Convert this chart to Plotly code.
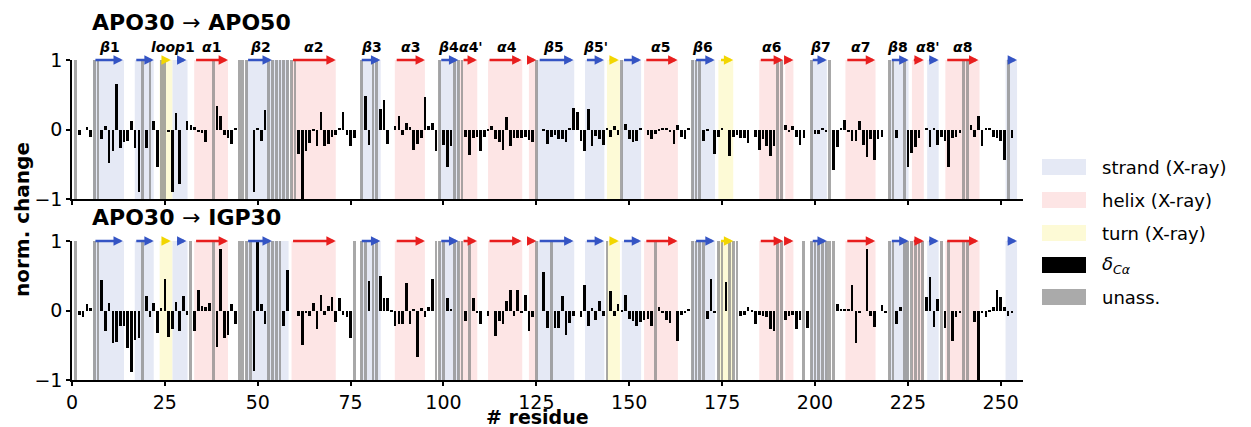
import plotly.graph_objects as go

# ---------------------------------------------------------------------------
# Data: normalised C-alpha chemical-shift change per residue (None = unassigned)
# ---------------------------------------------------------------------------
residues = list(range(1, 255))

delta_apo50 = [
    None, -0.08, 0.0, 0.04, -0.11, None, None, -0.14, 0.05, -0.48,
    -0.31, 0.65, -0.26, -0.18, -0.17, 0.13, -0.26, -0.89, None, -0.26,
    None, 0.12, -0.54, None, None, -0.03, -0.89, 0.24, -0.78, 0.0,
    0.12, 0.07, 0.04, -0.03, -0.05, -0.18, 0.0, None, 0.34, 0.2,
    -0.07, -0.12, -0.2, 0.03, None, None, None, 0.0, -0.89, 0.01,
    -0.17, 0.28, None, None, None, None, None, None, None, None,
    -0.35, -1.0, -0.31, -0.19, -0.02, -0.24, 0.25, -0.23, -0.2, -0.11,
    -0.07, 0.01, 0.25, -0.07, -0.24, -0.12, 0.0, None, 0.49, -0.22,
    None, None, 0.3, 0.43, -0.2, 0.0, 0.05, 0.19, -0.08, 0.1,
    0.04, -0.29, -0.2, -0.12, 0.47, 0.05, 0.1, -0.31, None, -0.22,
    -0.53, -0.24, None, None, None, -0.1, -0.37, -0.12, -0.11, -0.3,
    -0.1, -0.02, 0.05, -0.13, -0.18, -0.29, 0.18, -0.24, -0.12, -0.12,
    -0.12, -0.1, -0.15, -0.18, None, 0.0, -0.02, -0.2, -0.1, -0.08,
    -0.13, -0.14, -0.18, 0.01, 0.31, 0.26, -0.17, -0.31, 0.3, -0.24,
    -0.09, -0.13, -0.22, 0.02, -0.1, 0.05, -0.08, None, 0.08, -0.14,
    -0.18, -0.17, 0.01, 0.0, -0.07, -0.14, -0.06, -0.02, 0.01, 0.01,
    -0.04, -0.2, 0.07, -0.1, -0.14, 0.03, None, None, None, -0.17,
    -0.02, 0.0, -0.35, -0.1, 0.02, 0.0, -0.38, -0.1, -0.07, -0.12,
    -0.12, -0.19, 0.0, -0.1, -0.29, -0.14, -0.24, -0.38, -0.24, None,
    None, 0.06, -0.04, 0.05, -0.1, -0.22, -0.12, 0.0, None, -0.06,
    -0.06, 0.02, -0.04, None, -0.58, -0.25, 0.03, 0.14, -0.04, -0.17,
    -0.17, 0.12, -0.22, -0.39, -0.14, -0.43, -0.14, -0.1, 0.0, None,
    None, -0.12, 0.0, None, -0.53, -0.34, -0.25, -0.12, 0.0, 0.01,
    -0.25, 0.02, -0.22, -0.1, -0.17, -0.53, -0.12, -0.1, -0.05, None,
    None, 0.06, -0.1, 0.19, -0.24, 0.01, 0.01, -0.1, -0.12, -0.17,
    -0.43, None, -0.12, 0.0,
]

delta_igp30 = [
    None, -0.07, -0.1, 0.1, 0.04, None, None, 0.44, -0.3, 0.11,
    -0.47, -0.46, -0.23, -0.23, -0.54, -0.89, -0.42, -0.39, None, 0.21,
    -0.1, 0.11, -0.32, 0.04, 0.46, -0.38, -0.26, 0.12, -0.29, 0.21,
    -0.06, None, -0.3, 0.3, 0.06, 0.05, 0.11, None, -0.52, 0.89,
    -0.39, -0.35, 0.09, -0.19, None, None, None, None, -0.87, 0.98,
    0.09, -0.19, None, None, None, None, -0.23, 0.58, 0.0, 0.0,
    -0.08, -0.49, -0.03, -0.08, 0.11, -0.26, 0.23, -0.07, 0.06, 0.2,
    -0.17, 0.18, -0.06, -0.09, -0.39, None, 0.0, None, None, 0.42,
    None, None, 0.49, 0.18, 0.18, -0.02, -0.22, -0.2, -0.19, 0.39,
    -0.2, 0.02, -0.67, 0.04, -0.1, 0.05, 0.45, None, None, None,
    0.18, 0.01, None, None, None, -0.15, None, 0.18, -0.03, -0.2,
    0.0, -0.08, 0.0, -0.36, -0.15, -0.2, 0.13, 0.3, -0.08, 0.3,
    -0.04, 0.22, -0.29, -0.1, None, 0.0, 0.55, -0.25, None, -0.25,
    -0.25, 0.21, -0.35, -0.18, -0.08, 0.0, -0.1, 0.37, -0.23, 0.04,
    -0.13, 0.13, -0.08, None, 0.28, -0.08, 0.1, -0.01, 0.22, -0.12,
    -0.15, -0.22, -0.17, -0.14, -0.12, -0.23, None, 0.05, -0.03, -0.14,
    -0.18, 0.0, -0.44, -0.06, -0.03, 0.02, None, None, None, None,
    -0.12, 0.46, -0.03, None, None, 0.41, None, None, None, -0.08,
    -0.06, 0.05, -0.02, -0.19, -0.06, -0.08, -0.1, -0.26, -0.3, None,
    None, -0.13, -0.08, -0.06, -0.27, -0.13, None, -0.25, None, None,
    None, None, None, None, None, 0.1, 0.02, 0.02, 0.01, 0.36,
    -0.47, -0.04, 0.0, 0.89, -0.08, -0.24, 0.0, 0.08, -0.03, None,
    None, -0.19, 0.05, None, None, None, None, None, None, 0.2,
    0.48, -0.24, 0.17, None, -0.25, None, -0.44, -0.1, -0.03, None,
    None, 0.0, -0.17, -1.0, -0.03, -0.1, -0.02, 0.05, 0.29, 0.2,
    0.05, -0.08, -0.04, 0.0,
]

panel_titles = ["APO30 → APO50", "APO30 → IGP30"]

# Secondary structure from the X-ray model (start, end in residue numbers)
strand_ranges = [(5.7, 14.0), (16.9, 22.0), (27.0, 31.1), (46.8, 58.3), (77.6, 83.1),
                 (98.8, 104.2), (125.1, 135.2), (138.1, 143.3), (148.0, 153.2),
                 (166.9, 173.1), (198.9, 203.2), (220.1, 225.2), (230.2, 233.3),
                 (251.3, 254.4)]
helix_ranges = [(32.9, 42.0), (59.1, 71.0), (86.9, 95.0), (104.4, 109.1), (112.0, 121.2),
                (123.0, 125.1), (154.0, 163.1), (185.0, 191.5), (192.0, 194.2),
                (208.2, 216.3), (226.1, 229.3), (235.1, 244.3)]
turn_ranges = [(23.6, 27.0), (144.0, 147.5), (174.0, 178.0)]

# Element arrows drawn above each panel: (start, end, kind)
element_arrows = [
    (5.9, 13.7, "strand"), (16.9, 22.0, "strand"), (23.9, 26.6, "turn"), (27.9, 30.8, "strand"),
    (33.0, 42.0, "helix"), (47.0, 53.8, "strand"), (59.1, 71.0, "helix"), (77.6, 83.0, "strand"),
    (87.0, 95.0, "helix"), (99.0, 104.0, "strand"), (105.0, 109.0, "helix"),
    (112.0, 121.0, "helix"), (123.0, 125.0, "helix"), (125.5, 135.0, "strand"),
    (138.2, 143.2, "strand"), (144.3, 147.2, "turn"), (148.2, 153.2, "strand"),
    (154.2, 163.0, "helix"), (167.6, 173.0, "strand"), (174.3, 178.0, "turn"),
    (185.0, 191.4, "helix"), (192.0, 194.2, "helix"), (199.0, 203.2, "strand"),
    (208.3, 216.2, "helix"), (220.3, 225.2, "strand"), (226.2, 229.3, "helix"),
    (230.3, 233.3, "strand"), (235.2, 244.0, "helix"), (251.5, 254.4, "strand"),
]

# Element names written above the first panel: (text, residue position)
element_labels = [
    ("<i>β</i>1", 10.0), ("<i>loop</i>1", 27.2), ("<i>α</i>1", 37.5), ("<i>β</i>2", 50.8),
    ("<i>α</i>2", 65.0), ("<i>β</i>3", 80.7), ("<i>α</i>3", 91.0), ("<i>β</i>4", 101.4),
    ("<i>α</i>4'", 107.4), ("<i>α</i>4", 117.0), ("<i>β</i>5", 129.6), ("<i>β</i>5'", 140.8),
    ("<i>α</i>5", 158.3), ("<i>β</i>6", 169.8), ("<i>α</i>6", 188.4), ("<i>β</i>7", 201.4),
    ("<i>α</i>7", 212.2), ("<i>β</i>8", 222.3), ("<i>α</i>8'", 230.4), ("<i>α</i>8", 239.6),
]

x_ticks = [0, 25, 50, 75, 100, 125, 150, 175, 200, 225, 250]
y_ticks = [-1, 0, 1]

# ---------------------------------------------------------------------------
# Styling
# ---------------------------------------------------------------------------
FONT = "DejaVu Sans"
W, H = 1251, 427
L, R, T, B = 72, 228, 60, 47

shade_color = {"strand": "rgb(229,233,245)", "helix": "rgb(253,229,229)", "turn": "rgb(253,250,214)"}
arrow_color = {"strand": "rgb(52,84,196)", "helix": "rgb(232,30,30)", "turn": "rgb(242,214,0)"}
grey_bar = "rgba(135,135,135,0.72)"


def px_x(px):
    return (px - L) / (W - L - R)


def px_y(py):
    return (H - B - py) / (H - T - B)


top_domain = [px_y(199.3), 1.0]
bot_domain = [0.0, px_y(241.0)]

fig = go.Figure()
shapes = []
annotations = []

panels = [("x", "y", delta_apo50), ("x2", "y2", delta_igp30)]

for idx, (xr, yr, values) in enumerate(panels):
    # structure shading
    for kind, ranges in (("strand", strand_ranges), ("helix", helix_ranges), ("turn", turn_ranges)):
        for a, b in ranges:
            shapes.append(dict(type="rect", xref=xr, yref=yr, x0=a, x1=b, y0=-1, y1=1,
                               fillcolor=shade_color[kind], line=dict(width=0), layer="below"))

    unassigned = [r for r, v in zip(residues, values) if v is None]
    fig.add_trace(go.Bar(x=unassigned, y=[2] * len(unassigned), base=-1, width=0.75,
                         marker=dict(color=grey_bar, line=dict(width=0)),
                         xaxis=xr, yaxis=yr, showlegend=False, hoverinfo="skip"))
    fig.add_trace(go.Bar(x=residues, y=values, width=0.7,
                         marker=dict(color="black", line=dict(width=0)),
                         xaxis=xr, yaxis=yr, showlegend=False, hoverinfo="skip"))

    for a, b, kind in element_arrows:
        annotations.append(dict(x=b, y=1, ax=a, ay=1, xref=xr, yref=yr, axref=xr, ayref=yr,
                                text="", showarrow=True, arrowhead=2, arrowsize=0.75,
                                arrowwidth=2.5, arrowcolor=arrow_color[kind], standoff=0))

    # panel title
    title_y = 23 if idx == 0 else 217
    annotations.append(dict(x=px_x(90), y=px_y(title_y), xref="paper", yref="paper",
                            xanchor="left", yanchor="middle", showarrow=False,
                            text="<b>" + panel_titles[idx].replace("→", "</b>→<b>") + "</b>",
                            font=dict(family=FONT, size=22, color="black")))

for text, pos in element_labels:
    annotations.append(dict(x=pos, y=1, xref="x", yref="y", yshift=13, showarrow=False,
                            xanchor="center", yanchor="middle", text="<b>" + text + "</b>",
                            font=dict(family=FONT, size=14, color="black")))

# axis titles
annotations.append(dict(x=px_x(22), y=px_y(220), xref="paper", yref="paper", textangle=-90,
                        showarrow=False, text="<b>norm. change</b>", xanchor="center", yanchor="middle",
                        font=dict(family=FONT, size=20, color="black")))
annotations.append(dict(x=px_x(537), y=px_y(417), xref="paper", yref="paper", showarrow=False,
                        text="<b># residue</b>", xanchor="center", yanchor="middle",
                        font=dict(family=FONT, size=19, color="black")))

# legend drawn by hand for wide swatches
legend_items = [("strand (X-ray)", shade_color["strand"]), ("helix (X-ray)", shade_color["helix"]),
                ("turn (X-ray)", shade_color["turn"]), ("<i>δ</i><sub><i>Cα</i></sub>", "black"),
                ("unass.", "rgb(170,170,170)")]
row_y = [167, 200, 233, 265, 297]
for (label, color), cy in zip(legend_items, row_y):
    shapes.append(dict(type="rect", xref="paper", yref="paper", x0=px_x(1042), x1=px_x(1086),
                       y0=px_y(cy + 8), y1=px_y(cy - 8), fillcolor=color, line=dict(width=0)))
    annotations.append(dict(x=px_x(1100), y=px_y(cy), xref="paper", yref="paper", showarrow=False,
                            xanchor="left", yanchor="middle", text=label,
                            font=dict(family=FONT, size=18, color="black")))

axis_common = dict(showgrid=False, zeroline=False, showline=True, linecolor="black", linewidth=1.5,
                   ticks="outside", ticklen=4, tickwidth=1.5, tickcolor="black",
                   tickfont=dict(family=FONT, size=19, color="black"))

fig.update_layout(
    width=W, height=H,
    margin=dict(l=L, r=R, t=T, b=B),
    paper_bgcolor="white", plot_bgcolor="white",
    barmode="overlay", bargap=0, hovermode=False,
    shapes=shapes, annotations=annotations, showlegend=False,
    xaxis=dict(domain=[0, 1], anchor="y", range=[0, 256], tickvals=x_ticks,
               showticklabels=False, **axis_common),
    yaxis=dict(domain=top_domain, anchor="x", range=[-1, 1], tickvals=y_ticks, **axis_common),
    xaxis2=dict(domain=[0, 1], anchor="y2", range=[0, 256], tickvals=x_ticks, **axis_common),
    yaxis2=dict(domain=bot_domain, anchor="x2", range=[-1, 1], tickvals=y_ticks, **axis_common),
)

fig.write_html("out.html")
